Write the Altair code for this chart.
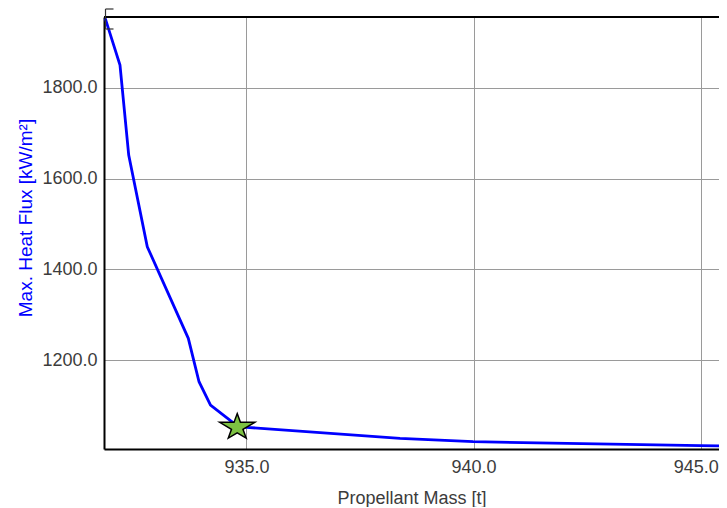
import altair as alt
import pandas as pd

# ---- data ----
mass = [931.89, 932.215, 932.407, 932.816, 933.719, 933.955, 934.208, 934.796, 935.005, 938.38, 939.99, 944.99, 946.0]
flux = [1952.7, 1849.9, 1651.8, 1450.0, 1248.3, 1152.8, 1101.5, 1055.7, 1052.4, 1028.2, 1020.8, 1012.0, 1011.0]
opt_mass = [934.796]
opt_flux = [1055.7]
x_ticks = [935.0, 940.0, 945.0]
y_ticks = [1200.0, 1400.0, 1600.0, 1800.0]

X_DOMAIN = [931.863, 945.403]
Y_DOMAIN = [1004.7, 1955.6]
W, H = 615, 432

FONT = "Liberation Sans"
STAR = "M0,-0.7L0.182,-0.2L1,-0.2L0.328,0.2L0.51,0.7L0,0.396L-0.51,0.7L-0.328,0.2L-1,-0.2L-0.182,-0.2Z"

df = pd.DataFrame({"mass": mass, "flux": flux})
opt = pd.DataFrame({"mass": opt_mass, "flux": opt_flux})

x_scale = alt.Scale(domain=X_DOMAIN, nice=False, zero=False)
y_scale = alt.Scale(domain=Y_DOMAIN, nice=False, zero=False)

x_axis = alt.Axis(
    values=x_ticks, format=".1f", title="Propellant Mass [t]",
    labelFont=FONT, labelFontSize=18, labelColor="#3c3c3c", labelPadding=9,
    labelFlush=False, ticks=False,
    labelOffset={"condition": {"test": "datum.value == 945", "value": -5}, "value": 0},
    domainColor="#000000", domainWidth=2,
    gridColor="#9a9a9a", gridWidth=1,
    titleFont=FONT, titleFontSize=18, titleFontWeight="normal", titleColor="#3c3c3c",
    titleY=54, titleBaseline="alphabetic",
)
y_axis = alt.Axis(
    values=y_ticks, format=".1f", title="Max. Heat Flux [kW/m²]",
    labelFont=FONT, labelFontSize=18, labelColor="#3c3c3c", labelPadding=7,
    labelFlush=False, ticks=False,
    domainColor="#000000", domainWidth=2,
    gridColor="#9a9a9a", gridWidth=1,
    titleFont=FONT, titleFontSize=19, titleFontWeight="normal", titleColor="#0000ff",
    titleX=-73, titleY=200.5, titleAngle=-90, titleAlign="center", titleBaseline="alphabetic",
)

line = alt.Chart(df).mark_line(color="#0000ff", strokeWidth=2.8, clip=True).encode(
    x=alt.X("mass:Q", scale=x_scale, axis=x_axis),
    y=alt.Y("flux:Q", scale=y_scale, axis=y_axis),
)

star = alt.Chart(opt).mark_point(
    shape=STAR, size=1225, filled=True, fill="#7dc242", fillOpacity=1,
    stroke="#000000", strokeWidth=1.5, opacity=1,
).encode(
    x=alt.X("mass:Q", scale=x_scale),
    y=alt.Y("flux:Q", scale=y_scale),
)

top_border = alt.Chart(opt).mark_rule(color="#000000", strokeWidth=2).encode(
    x=alt.value(0), x2=alt.value(W), y=alt.value(0)
)

# small range-handle bracket at the top-left corner (decoration)
br_v = alt.Chart(opt).mark_rule(color="#333333", strokeWidth=1.2).encode(
    x=alt.value(1.5), y=alt.value(-8), y2=alt.value(12)
)
br_t = alt.Chart(opt).mark_rule(color="#333333", strokeWidth=1.2).encode(
    x=alt.value(1.5), x2=alt.value(9.5), y=alt.value(-8)
)
br_b = alt.Chart(opt).mark_rule(color="#333333", strokeWidth=1.2).encode(
    x=alt.value(1.5), x2=alt.value(9.5), y=alt.value(12)
)

chart = alt.layer(line, star, top_border, br_v, br_t, br_b).properties(
    width=W, height=H,
    padding={"left": 96, "top": 9, "right": 0, "bottom": 58},
    autosize=alt.AutoSizeParams(type="none"),
    background="#ffffff",
).configure_view(stroke=None)

chart.save("out.html", embed_options={"renderer": "svg", "actions": False})
